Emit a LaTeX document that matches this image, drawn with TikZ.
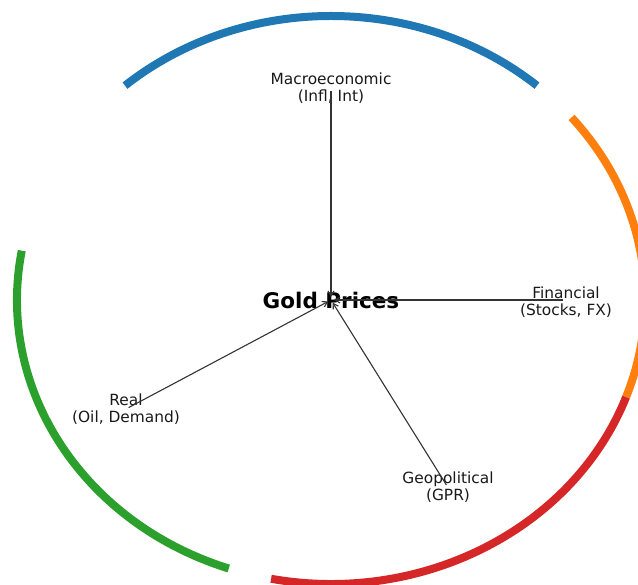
\documentclass[tikz,border=0pt]{standalone}
\usepackage{fontspec}
\setmainfont{DejaVu Sans}
\usetikzlibrary{arrows.meta}
\definecolor{tabblue}{HTML}{1F77B4}
\definecolor{taborange}{HTML}{FF7F0E}
\definecolor{tabred}{HTML}{D62728}
\definecolor{tabgreen}{HTML}{2CA02C}
\tikzset{
  ring/.style={line width=8pt, line cap=butt},
  factor/.style={align=center, inner sep=0pt, font=\fontsize{15.4}{17}\selectfont, text=black!90},
  hub/.style={inner sep=0pt, font=\fontsize{21.5}{24}\bfseries\selectfont, text=black},
  link/.style={draw=black!80, line width=1.1pt, -{Straight Barb[length=5pt,width=6pt]}, shorten <=3pt, shorten >=3pt}
}
\begin{document}
\begin{tikzpicture}[x=1pt,y=1pt]
\useasboundingbox (0,0) rectangle (638,585);
\clip (0,0) rectangle (638,585);
\coordinate (c) at (331,285);
% ring arcs
\draw[ring, tabblue]   (c) ++(49:314pt and 284pt)  arc[start angle=49,  end angle=131, x radius=314pt, y radius=284pt];
\draw[ring, taborange] (c) ++(-20:314pt and 284pt) arc[start angle=-20, end angle=40,  x radius=314pt, y radius=284pt];
\draw[ring, tabred]    (c) ++(-101:314pt and 284pt) arc[start angle=-101, end angle=-20, x radius=314pt, y radius=284pt];
\draw[ring, tabgreen]  (c) ++(170:314pt and 284pt) arc[start angle=170, end angle=251, x radius=314pt, y radius=284pt];
% nodes
\node[hub] (gold) at (331,285) {Gold Prices};
\node[factor] (mac) at (331,497) {Macroeconomic\\(Infl, Int)};
\node[factor] (fin) at (566,283) {Financial\\(Stocks, FX)};
\node[factor] (real) at (126,176) {Real\\(Oil, Demand)};
\node[factor] (geo) at (448,97.5) {Geopolitical\\(GPR)};
% connectors
\draw[link] (mac.center) -- (gold.center);
\draw[link] (fin.center |- gold.center) -- (gold.center);
\draw[link] (real.center) -- (gold.center);
\draw[link] (geo.center) -- (gold.center);
\end{tikzpicture}
\end{document}
